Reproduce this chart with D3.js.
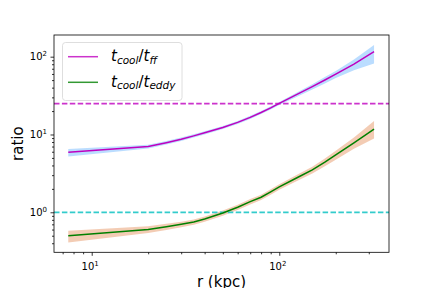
<!DOCTYPE html>
<html>
<head>
<meta charset="utf-8">
<script src="https://cdn.jsdelivr.net/npm/d3@7/dist/d3.min.js"></script>
<style>
  html, body { margin: 0; padding: 0; background: #fff; }
  svg { display: block; font-family: "DejaVu Sans", sans-serif; }
</style>
</head>
<body>
<svg id="chart" width="432" height="288"></svg>
<script>
// ---- data ----
const radius = [7.5, 20, 25, 30, 35, 40, 50, 60, 70, 80, 90, 100, 125, 150, 175, 200, 250, 320];
const ffMid   = [5.9, 7.0, 7.85, 8.7, 9.6, 10.5, 12.3, 14.3, 16.6, 19.2, 22.0, 25.1, 33.0, 41.3, 50.2, 59.7, 80.4, 116];
const ffUpper = [6.5, 7.4, 8.25, 9.15, 10.05, 11.0, 12.85, 14.95, 17.35, 20.05, 23.0, 26.2, 35.0, 44.2, 54.7, 65.7, 91.7, 141];
const ffLower = [5.2, 6.6, 7.45, 8.25, 9.15, 10.0, 11.75, 13.65, 15.85, 18.35, 21.0, 24.0, 30.7, 38.0, 45.2, 53.1, 66.7, 82];
const eddyMid   = [0.50, 0.60, 0.65, 0.70, 0.75, 0.82, 0.98, 1.16, 1.37, 1.56, 1.83, 2.12, 2.8, 3.5, 4.4, 5.45, 7.8, 11.7];
const eddyUpper = [0.58, 0.66, 0.71, 0.756, 0.81, 0.886, 1.058, 1.253, 1.48, 1.685, 1.976, 2.29, 3.05, 3.85, 4.9, 6.16, 9.13, 14.9];
const eddyLower = [0.41, 0.54, 0.59, 0.644, 0.69, 0.754, 0.90, 1.067, 1.26, 1.435, 1.684, 1.95, 2.55, 3.15, 3.9, 4.74, 6.55, 8.9];
const refLines = [25, 1];
const xMajorTicks = [10, 100];
const yMajorTicks = [1, 10, 100];
const xDomain = [6.295, 384.5];
const yDomain = [0.306, 190];

// ---- layout ----
const m = { left: 54, right: 389, top: 35, bottom: 252.3 };
const svg = d3.select("#chart");

const x = d3.scaleLog().domain(xDomain).range([m.left, m.right]);
const y = d3.scaleLog().domain(yDomain).range([m.bottom, m.top]);

const ffRows = radius.map((r, i) => ({ r, mid: ffMid[i], lo: ffLower[i], hi: ffUpper[i] }));
const eddyRows = radius.map((r, i) => ({ r, mid: eddyMid[i], lo: eddyLower[i], hi: eddyUpper[i] }));

const area = d3.area().x(d => x(d.r)).y0(d => y(d.lo)).y1(d => y(d.hi));
const line = d3.line().x(d => x(d.r)).y(d => y(d.mid));

svg.append("clipPath").attr("id", "clip").append("rect")
  .attr("x", m.left).attr("y", m.top).attr("width", m.right - m.left).attr("height", m.bottom - m.top);
const g = svg.append("g").attr("clip-path", "url(#clip)");

// bands
g.append("path").datum(ffRows).attr("d", area).attr("fill", "#1e90ff").attr("fill-opacity", 0.3);
g.append("path").datum(eddyRows).attr("d", area).attr("fill", "#e07a3a").attr("fill-opacity", 0.38);

// reference dashed lines
const refColors = ["#cc33cc", "#33cccc"];
refLines.forEach((v, i) => {
  g.append("line").attr("x1", m.left).attr("x2", m.right)
    .attr("y1", y(v)).attr("y2", y(v))
    .attr("stroke", refColors[i]).attr("stroke-width", 1.7)
    .attr("stroke-dasharray", "5.5,2.4");
});

// main lines
g.append("path").datum(ffRows).attr("d", line).attr("fill", "none")
  .attr("stroke", "#bf00bf").attr("stroke-width", 1.5);
g.append("path").datum(eddyRows).attr("d", line).attr("fill", "none")
  .attr("stroke", "#008000").attr("stroke-width", 1.5);

// ---- axes ----
function minorTicks(domain) {
  const out = [];
  for (let e = -2; e <= 4; e++) {
    for (let k = 2; k <= 9; k++) {
      const v = k * Math.pow(10, e);
      if (v >= domain[0] && v <= domain[1]) out.push(v);
    }
  }
  return out;
}

const xAxisMinor = d3.axisBottom(x).tickValues(minorTicks(xDomain)).tickSize(2).tickFormat("");
const xAxisMajor = d3.axisBottom(x).tickValues(xMajorTicks).tickSize(3.5).tickFormat("");
const yAxisMinor = d3.axisLeft(y).tickValues(minorTicks(yDomain)).tickSize(2).tickFormat("");
const yAxisMajor = d3.axisLeft(y).tickValues(yMajorTicks).tickSize(3.5).tickFormat("");

function styleAxis(sel) {
  sel.select(".domain").remove();
  sel.selectAll(".tick line").attr("stroke", "#000").attr("stroke-width", 0.8);
}
svg.append("g").attr("transform", `translate(0,${m.bottom})`).call(xAxisMinor).call(styleAxis);
svg.append("g").attr("transform", `translate(0,${m.bottom})`).call(xAxisMajor).call(styleAxis);
svg.append("g").attr("transform", `translate(${m.left},0)`).call(yAxisMinor).call(styleAxis);
svg.append("g").attr("transform", `translate(${m.left},0)`).call(yAxisMajor).call(styleAxis);

// tick labels (10^n)
function powLabel(sel, v) {
  const e = Math.round(Math.log10(v));
  sel.append("tspan").text("10");
  sel.append("tspan").attr("dy", -4).attr("font-size", 7).text(String(e));
}
xMajorTicks.forEach(v => {
  const t = svg.append("text").attr("x", x(v) - 1.5).attr("y", 270)
    .attr("text-anchor", "middle").attr("font-size", 10).attr("fill", "#000");
  powLabel(t, v);
});
yMajorTicks.forEach(v => {
  const t = svg.append("text").attr("x", 47).attr("y", y(v) + 3.5)
    .attr("text-anchor", "end").attr("font-size", 10).attr("fill", "#000");
  powLabel(t, v);
});

// frame
svg.append("rect").attr("x", m.left).attr("y", m.top)
  .attr("width", m.right - m.left).attr("height", m.bottom - m.top)
  .attr("fill", "none").attr("stroke", "#000").attr("stroke-width", 0.8);

// axis labels
svg.append("text").attr("x", (m.left + m.right) / 2).attr("y", 287)
  .attr("text-anchor", "middle").attr("font-size", 15).text("r (kpc)");
svg.append("text").attr("transform", `translate(23,${(m.top + m.bottom) / 2}) rotate(-90)`)
  .attr("text-anchor", "middle").attr("font-size", 15).text("ratio");

// ---- legend ----
const legend = svg.append("g");
legend.append("rect").attr("x", 62.5).attr("y", 42.5).attr("width", 119.5).attr("height", 58)
  .attr("rx", 3).attr("fill", "#fff").attr("fill-opacity", 0.8)
  .attr("stroke", "#d6d6d6").attr("stroke-width", 0.8);
const legendItems = [
  { color: "#cc33cc", sub2: "ff" },
  { color: "#339933", sub2: "eddy" }
];
legendItems.forEach((it, i) => {
  const yy = 56.7 + i * 25.6;
  legend.append("line").attr("x1", 68).attr("x2", 98).attr("y1", yy).attr("y2", yy)
    .attr("stroke", it.color).attr("stroke-width", 1.5);
  const t = legend.append("text").attr("x", 111).attr("y", yy + 4.5)
    .attr("font-size", 15).attr("fill", "#000");
  t.append("tspan").attr("font-style", "italic").text("t");
  t.append("tspan").attr("font-style", "italic").attr("font-size", 10.5).attr("dy", 2.5).text("cool");
  t.append("tspan").attr("dy", -2.5).text("/");
  t.append("tspan").attr("font-style", "italic").text("t");
  t.append("tspan").attr("font-style", "italic").attr("font-size", 10.5).attr("dy", 2.5).text(it.sub2);
});
</script>
</body>
</html>
